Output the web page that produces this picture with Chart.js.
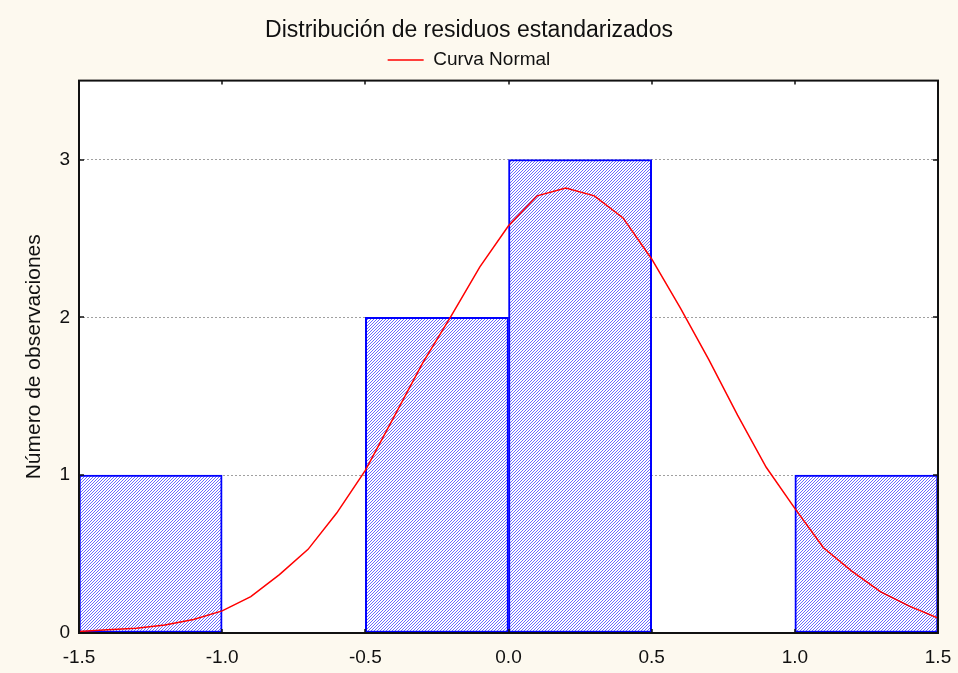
<!DOCTYPE html>
<html>
<head>
<meta charset="utf-8">
<script src="https://cdn.jsdelivr.net/npm/chart.js@4/dist/chart.umd.min.js"></script>
<style>
  html, body { margin: 0; padding: 0; background: #fdf9ef; }
  #wrap { width: 958px; height: 673px; }
</style>
</head>
<body>
<div id="wrap"><canvas id="c" width="958" height="673"></canvas></div>
<script>
// ---- data ----
const binStart = [-1.5, -1.0, -0.5, 0.0, 0.5, 1.0];
const binEnd   = [-1.0, -0.5, 0.0, 0.5, 1.0, 1.5];
const binCounts = [1, 0, 2, 3, 0, 1];
const curveX = [-1.5, -1.4, -1.3, -1.2, -1.1, -1.0, -0.9, -0.8, -0.7, -0.6, -0.5, -0.4, -0.3, -0.2, -0.1,
                0.0, 0.1, 0.2, 0.3, 0.4, 0.5, 0.6, 0.7, 0.8, 0.9, 1.0, 1.1, 1.2, 1.3, 1.4, 1.5];
const curveY = [0.01, 0.02, 0.03, 0.05, 0.085, 0.14, 0.23, 0.37, 0.53, 0.76, 1.03, 1.37, 1.71, 2.01, 2.32,
                2.58, 2.77, 2.82, 2.77, 2.63, 2.37, 2.06, 1.73, 1.38, 1.05, 0.79, 0.54, 0.39, 0.26, 0.17, 0.095];
const xTickLabels = ['-1.5', '-1.0', '-0.5', '0.0', '0.5', '1.0', '1.5'];
const yTickLabels = ['0', '1', '2', '3'];
const titleText = 'Distribución de residuos estandarizados';
const yTitleText = 'Número de observaciones';
const curveName = 'Curva Normal';

// hatch pattern
function makeHatch() {
  const p = document.createElement('canvas');
  p.width = 3; p.height = 3;
  const g = p.getContext('2d');
  g.fillStyle = '#ffffff';
  g.fillRect(0, 0, 3, 3);
  g.fillStyle = '#6a6aff';
  g.fillRect(2, 0, 1, 1);
  g.fillRect(1, 1, 1, 1);
  g.fillRect(0, 2, 1, 1);
  return g.createPattern(p, 'repeat');
}
const ctx = document.getElementById('c').getContext('2d');
const hatch = makeHatch();

const FONT = "'Liberation Sans', Arial, sans-serif";

const framePlugin = {
  id: 'frame',
  beforeDraw(chart) {
    const c = chart.ctx, a = chart.chartArea;
    c.save();
    c.fillStyle = '#fdf9ef';
    c.fillRect(0, 0, chart.width, chart.height);
    c.fillStyle = '#ffffff';
    c.fillRect(a.left, a.top, a.right - a.left, a.bottom - a.top);
    c.restore();
  },
  afterDraw(chart) {
    const c = chart.ctx, a = chart.chartArea;
    c.save();
    c.strokeStyle = '#111';
    c.lineWidth = 2;
    c.strokeRect(a.left, a.top, a.right - a.left, a.bottom - a.top);
    c.lineWidth = 1.5;
    const ys = chart.scales.y, xs = chart.scales.x;
    yTickLabels.forEach(t => {
      const py = Math.round(ys.getPixelForValue(Number(t)));
      c.beginPath();
      c.moveTo(a.left, py); c.lineTo(a.left + 5, py);
      c.moveTo(a.right, py); c.lineTo(a.right - 5, py);
      c.stroke();
    });
    xTickLabels.forEach(t => {
      const px = Math.round(xs.getPixelForValue(Number(t)));
      c.beginPath();
      c.moveTo(px, a.bottom); c.lineTo(px, a.bottom - 4);
      c.moveTo(px, a.top); c.lineTo(px, a.top + 4);
      c.stroke();
    });
    c.restore();
  }
};

const legendPad = {
  id: 'legendPad',
  beforeUpdate(chart) {
    const lg = chart.legend;
    if (lg && !lg._padWrapped) {
      const f = lg.fit;
      lg.fit = function () { f.call(this); this.height += 1; };
      lg._padWrapped = true;
    }
  }
};

new Chart(ctx, {
  type: 'bar',
  data: {
    datasets: [
      {
        type: 'line',
        label: curveName,
        data: curveX.map((x, i) => ({ x: x, y: curveY[i] })),
        xAxisID: 'x',
        yAxisID: 'y',
        borderColor: '#ff0000',
        borderWidth: 1.5,
        pointRadius: 0,
        tension: 0,
        fill: false,
        order: 0
      },
      {
        type: 'bar',
        label: 'Observaciones',
        data: binCounts.map((v, i) => ({ x: (binStart[i] + binEnd[i]) / 2, y: v })),
        xAxisID: 'x',
        yAxisID: 'y',
        backgroundColor: hatch,
        borderColor: '#0000ff',
        borderWidth: 2,
        borderSkipped: false,
        categoryPercentage: 1.0,
        barPercentage: 1.0,
        order: 1
      }
    ]
  },
  options: {
    responsive: false,
    animation: false,
    devicePixelRatio: 1,
    layout: { padding: { left: 0, right: 20, top: 0, bottom: 0 } },
    plugins: {
      title: {
        display: true,
        text: titleText,
        color: '#111',
        font: { family: FONT, size: 23, weight: 'normal' },
        padding: { top: 17, bottom: 0 }
      },
      legend: {
        display: true,
        labels: {
          color: '#111',
          font: { family: FONT, size: 19 },
          usePointStyle: true,
          pointStyle: 'line',
          pointStyleWidth: 36,
          boxHeight: 19,
          padding: 6,
          filter: (item) => item.text === curveName
        }
      },
      tooltip: { enabled: false }
    },
    scales: {
      x: {
        type: 'linear',
        position: 'bottom',
        offset: false,
        min: -1.5,
        max: 1.5,
        afterFit: (s) => { s.height = 40; s.paddingLeft = 0; s.paddingRight = 0; },
        afterBuildTicks: (s) => { s.ticks = xTickLabels.map(t => ({ value: Number(t) })); },
        ticks: {
          color: '#111',
          font: { family: FONT, size: 19 },
          padding: 13,
          maxRotation: 0,
          autoSkip: false,
          callback: (v) => Number(v).toFixed(1)
        },
        grid: { display: false, drawTicks: false, offset: false },
        border: { display: false }
      },
      y: {
        type: 'linear',
        min: 0,
        max: 3.5,
        afterFit: (s) => { s.width = 79; },
        afterBuildTicks: (s) => { s.ticks = yTickLabels.map(t => ({ value: Number(t) })); },
        ticks: {
          color: '#111',
          font: { family: FONT, size: 19 },
          padding: 9,
          callback: (v) => String(v)
        },
        grid: {
          color: (c) => (c.tick && c.tick.value > 0 ? '#a0a0a0' : 'rgba(0,0,0,0)'),
          lineWidth: 1,
          drawTicks: false
        },
        border: { display: false, dash: [2, 2] },
        title: {
          display: true,
          text: yTitleText,
          color: '#111',
          font: { family: FONT, size: 21 },
          padding: { top: 22, bottom: 0 }
        }
      }
    }
  },
  plugins: [framePlugin, legendPad]
});
</script>
</body>
</html>
